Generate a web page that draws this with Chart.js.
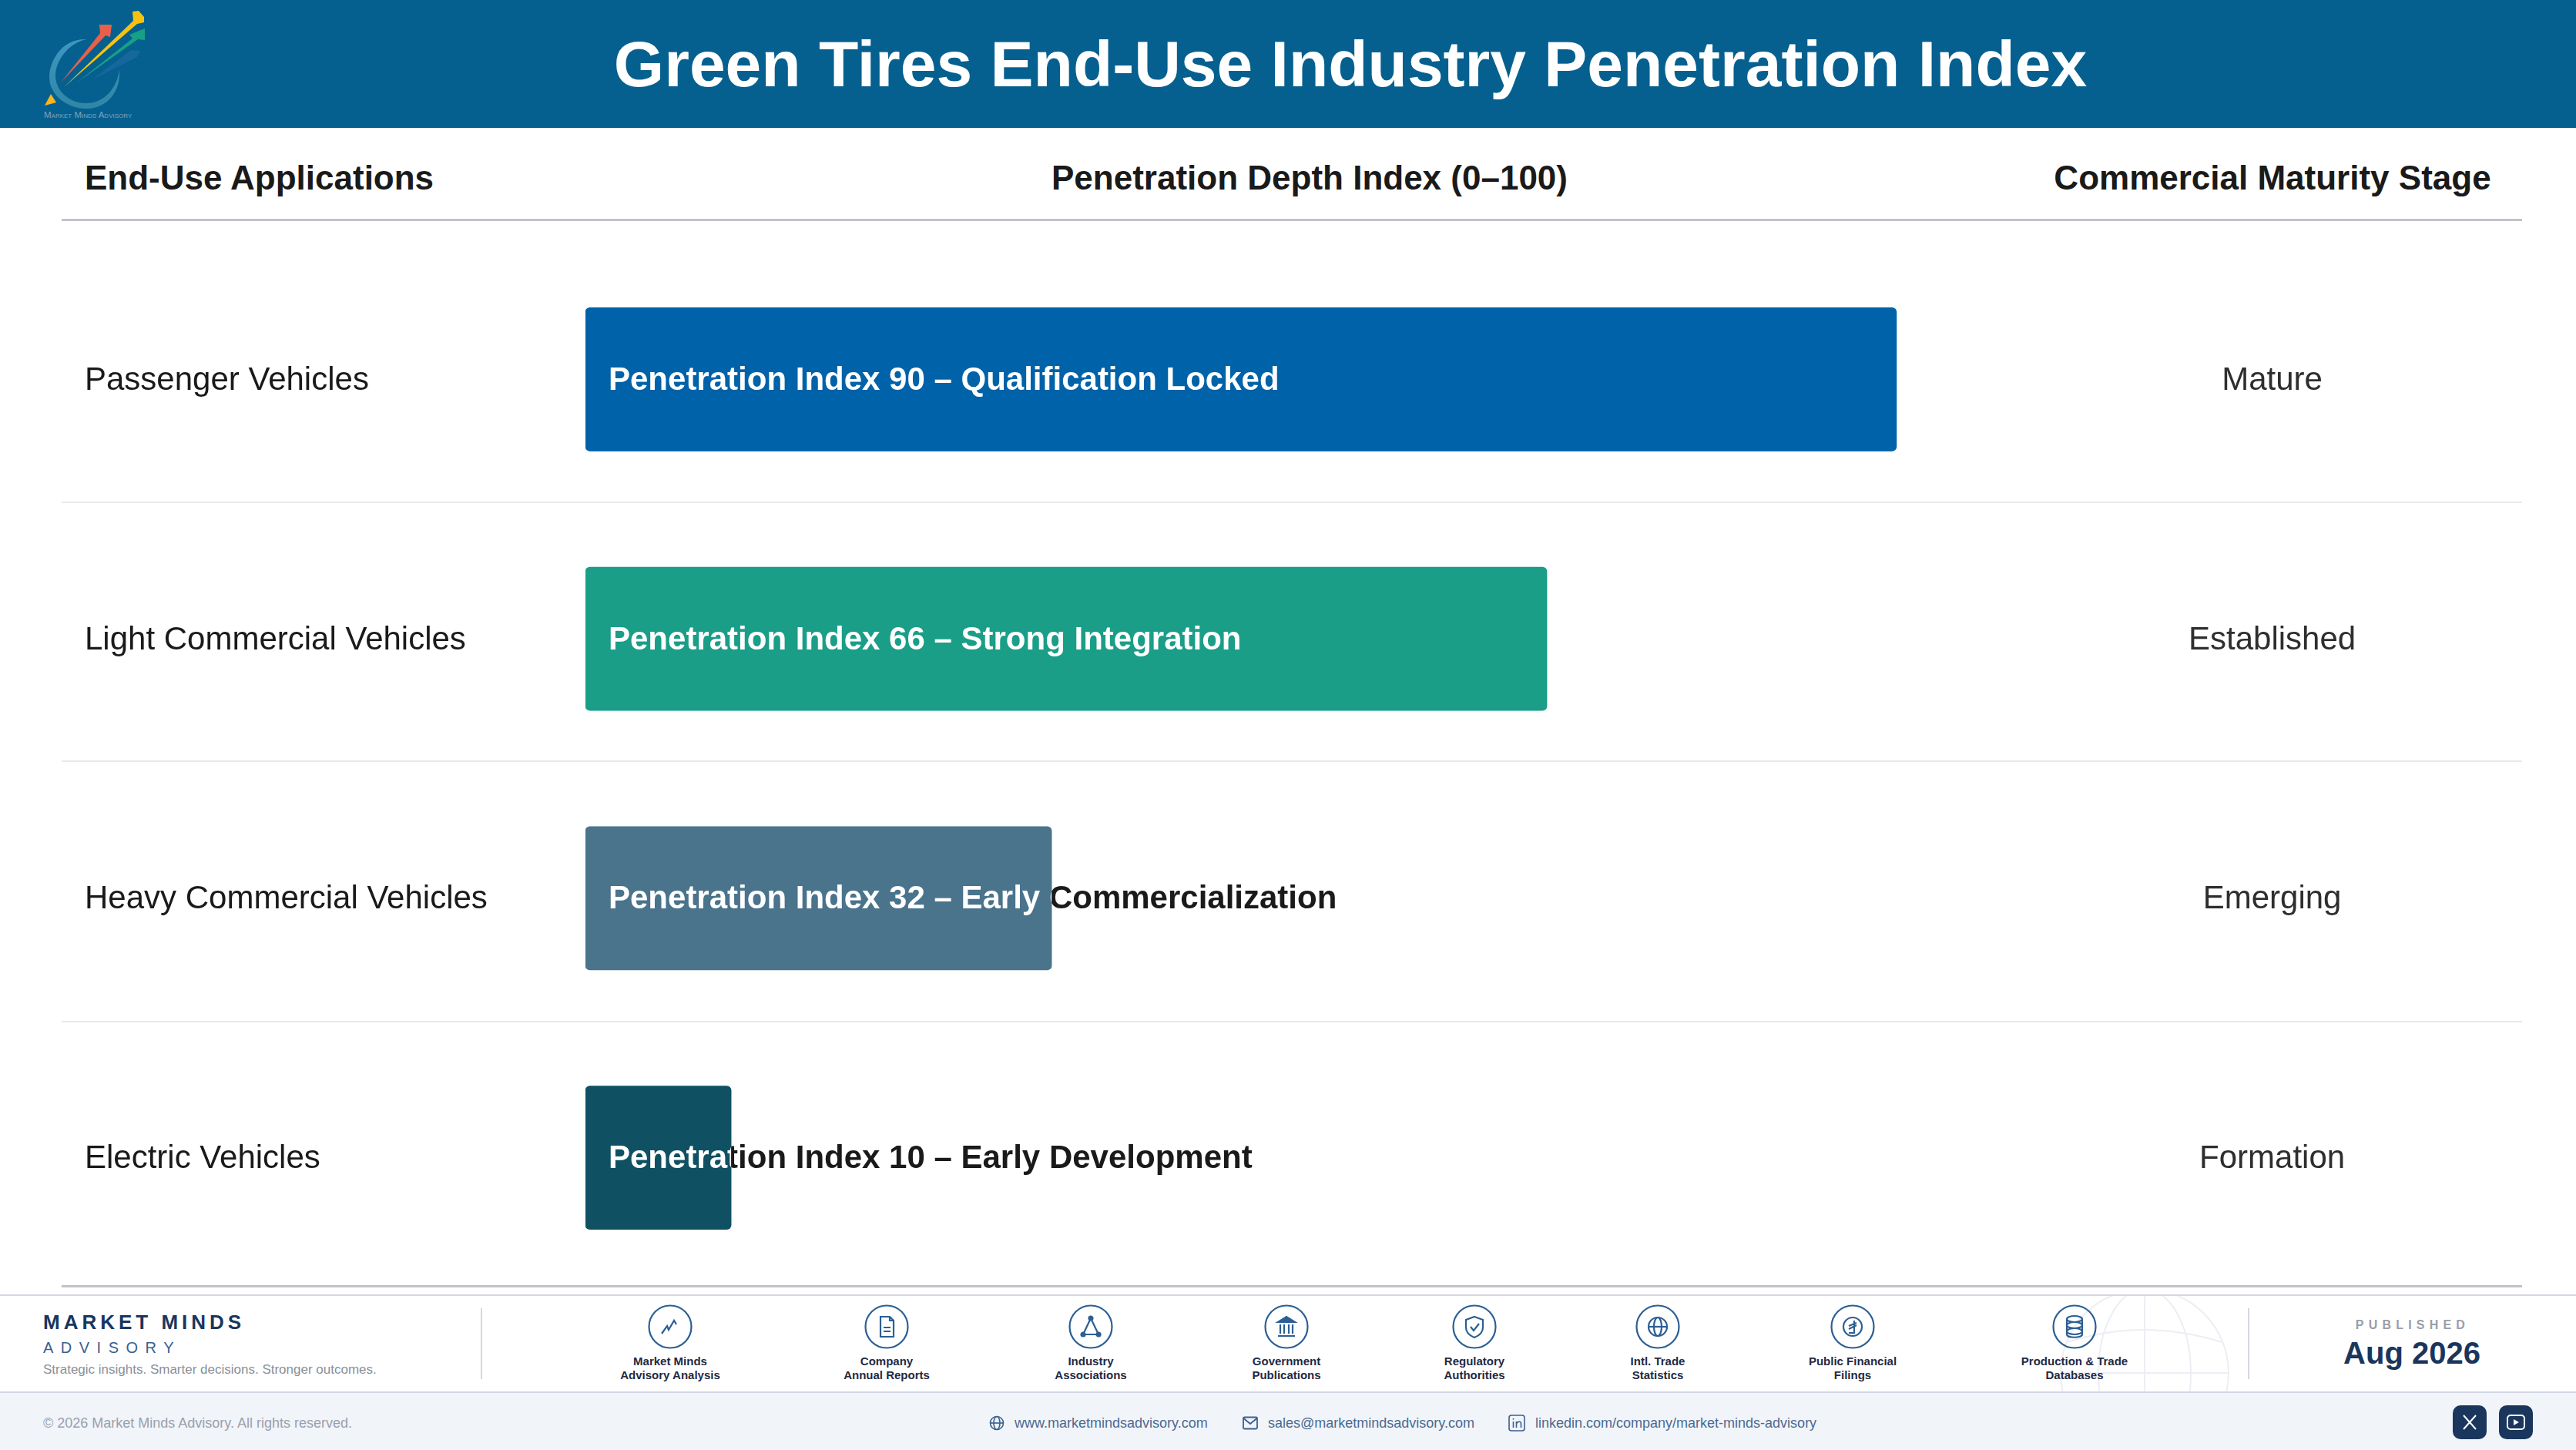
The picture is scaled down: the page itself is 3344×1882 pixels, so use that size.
<!DOCTYPE html>
<html>
<head>
<meta charset="utf-8">
<title>Green Tires End-Use Industry Penetration Index</title>
<script src="https://cdn.jsdelivr.net/npm/chart.js@4"></script>
<style>
  html, body { margin: 0; padding: 0; background: #fff; }
  body { position: relative; width: 3344px; height: 1882px; overflow: hidden; font-family: "Liberation Sans", Arial, sans-serif; color: #1a1a1a; }
  .abs { position: absolute; white-space: nowrap; }
  .mid { transform: translateY(-50%); }
  .ctr { transform: translate(-50%, -50%); }
  #header { left: 0; top: 0; width: 3344px; height: 166px; background: #05608F; }
  #title { left: 1753px; top: 83px; font-size: 84px; font-weight: 700; color: #fff; }
  .colhead { top: 231px; font-size: 44px; font-weight: 700; color: #1a1a1a; }
  .rule { left: 80px; width: 3194px; }
  #chartWrap { left: 0; top: 166px; width: 3344px; height: 1514px; }
  #footer { left: 0; top: 1680px; width: 3344px; background: #fff; border-top: 2px solid #D3D6E4; border-bottom: 2px solid #D3D6E4; box-sizing: content-box; height: 124px; }
  #bottom { left: 0; top: 1808px; width: 3344px; height: 74px; background: #F1F4F9; }
  .vdiv { top: 1698px; width: 2px; height: 92px; background: #D3D7DF; }
  .srcLabel { font-size: 15px; font-weight: 700; line-height: 18px; color: #1F2A44; text-align: center; transform: translateX(-50%); top: 1758px; }
  .contact { top: 1847px; font-size: 18px; color: #4A6A90; }
  .social { top: 1824px; width: 44px; height: 44px; border-radius: 10px; background: #1A365D; }
</style>
</head>
<body>
<div class="abs" id="header"></div>
<svg class="abs" style="left:0;top:0" width="220" height="166" viewBox="0 0 220 166">
  <defs>
    <linearGradient id="ringGrad" x1="0" y1="0" x2="0" y2="1">
      <stop offset="0" stop-color="#3E97C0"/><stop offset="1" stop-color="#2F86A6"/>
    </linearGradient>
  </defs>
  <path d="M 112 51 C 78 50 64 82 64 100 C 64 124 88 141 112 141 C 140 141 157 118 155 90 C 152 116 134 134 112 134 C 90 134 72 118 72 98 C 72 80 88 56 112 51 Z" fill="url(#ringGrad)"/>
  <polygon points="58,137 73,133 66,122" fill="#FBB41A"/>
  <polygon points="120,103 178,74 182,66 170,65" fill="#1F6EA6" opacity="0.6"/>
  <polygon points="100,107 172,50 168,45 188,37 188,52 179,51" fill="#16A085"/>
  <polygon points="83,113 173,27 172,15 180,14 187,22 187,29 178,31" fill="#F7C20F"/>
  <polygon points="79,107 130,43 129,32 145,32 143,48 137,46" fill="#E8604A"/>
  <text x="57" y="153" font-size="11.5" fill="#7FA3BC" font-family="Liberation Sans" style="font-variant:small-caps">Market Minds Advisory</text>
</svg>
<div class="abs ctr" id="title">Green Tires End-Use Industry Penetration Index</div>

<div class="abs colhead mid" style="left:110px">End-Use Applications</div>
<div class="abs colhead ctr" style="left:1700px">Penetration Depth Index (0–100)</div>
<div class="abs colhead ctr" style="left:2950px">Commercial Maturity Stage</div>

<div class="abs rule" style="top:284px;height:3px;background:#C2C2CA"></div>
<div class="abs rule" style="top:651px;height:2px;background:#E8E8E8"></div>
<div class="abs rule" style="top:987px;height:2px;background:#E8E8E8"></div>
<div class="abs rule" style="top:1325px;height:2px;background:#E8E8E8"></div>
<div class="abs rule" style="top:1668px;height:3px;background:#C2C2CA"></div>

<div class="abs" id="chartWrap"><canvas id="penetrationChart" width="3344" height="1514"></canvas></div>

<div class="abs" id="footer"></div>
<div class="abs" id="bottom"></div>
<svg class="abs" style="left:2640px;top:1682px" width="290" height="124" viewBox="2640 1682 290 124" fill="none" stroke="#ECEEF3" stroke-width="2">
  <circle cx="2784" cy="1782" r="109"/>
  <ellipse cx="2784" cy="1782" rx="60" ry="109"/>
  <line x1="2784" y1="1673" x2="2784" y2="1806"/>
  <line x1="2675" y1="1782" x2="2893" y2="1782"/>
  <path d="M 2684 1742 Q 2784 1710 2884 1742"/>
</svg>

<div class="abs mid" style="left:56px;top:1716px;font-size:26px;font-weight:700;letter-spacing:5px;color:#1A365D">MARKET MINDS</div>
<div class="abs mid" style="left:56px;top:1749px;font-size:20px;letter-spacing:9.5px;color:#3A5F8F">ADVISORY</div>
<div class="abs mid" style="left:56px;top:1778px;font-size:17px;color:#8A8F9A">Strategic insights. Smarter decisions. Stronger outcomes.</div>
<div class="abs vdiv" style="left:624px"></div>
<div class="abs vdiv" style="left:2918px"></div>
<div id="sources"></div>
<div class="abs ctr" style="left:3132px;top:1720px;font-size:16px;font-weight:700;letter-spacing:6.2px;color:#9A9EA8">PUBLISHED</div>
<div class="abs ctr" style="left:3131px;top:1756px;font-size:40px;font-weight:700;color:#1A365D">Aug 2026</div>

<div class="abs mid" style="left:56px;top:1847px;font-size:18px;color:#9AA0AC">© 2026 Market Minds Advisory. All rights reserved.</div>
<svg class="abs" style="left:1284px;top:1837px" width="20" height="20" viewBox="0 0 20 20" fill="none" stroke="#3A5F8F" stroke-width="1.6">
  <circle cx="10" cy="10" r="8.5"/><ellipse cx="10" cy="10" rx="4" ry="8.5"/><line x1="1.5" y1="10" x2="18.5" y2="10"/>
</svg>
<div class="abs contact mid" style="left:1317px">www.marketmindsadvisory.com</div>
<svg class="abs" style="left:1613px;top:1838px" width="20" height="18" viewBox="0 0 20 18" fill="none" stroke="#3A5F8F" stroke-width="1.8">
  <rect x="1" y="1.5" width="18" height="15" rx="1.5"/><path d="M 1.5 3 L 10 10 L 18.5 3"/>
</svg>
<div class="abs contact mid" style="left:1646px">sales@marketmindsadvisory.com</div>
<svg class="abs" style="left:1958px;top:1836px" width="22" height="22" viewBox="0 0 22 22" fill="none" stroke="#3A5F8F" stroke-width="1.6">
  <rect x="1" y="1" width="20" height="20" rx="3"/><line x1="6.5" y1="9" x2="6.5" y2="17"/><line x1="6.5" y1="5" x2="6.5" y2="6.6"/><path d="M 10.5 17 V 9 M 10.5 12 Q 12 9 14.5 9.2 Q 16.5 9.5 16.5 12 V 17"/>
</svg>
<div class="abs contact mid" style="left:1993px">linkedin.com/company/market-minds-advisory</div>
<div class="abs social" style="left:3184px"></div>
<div class="abs social" style="left:3244px"></div>
<svg class="abs" style="left:3184px;top:1824px" width="104" height="44" viewBox="0 0 104 44" fill="none" stroke="#fff" stroke-width="2">
  <path d="M 14 13 L 30 31 M 30 13 L 14 31"/>
  <rect x="71" y="13" width="22" height="18" rx="4"/>
  <polygon points="79,18 79,26 86,22" fill="#fff" stroke="none"/>
</svg>

<script>
// Chart data
var applications = ['Passenger Vehicles', 'Light Commercial Vehicles', 'Heavy Commercial Vehicles', 'Electric Vehicles'];
var penetrationIndex = [90, 66, 32, 10];
var penetrationNotes = ['Qualification Locked', 'Strong Integration', 'Early Commercialization', 'Early Development'];
var maturityStages = ['Mature', 'Established', 'Emerging', 'Formation'];
var barColors = ['#0062A8', '#1A9E88', '#4A738C', '#0F5163'];

// Footer sources
var sourceNames = [
    ['Market Minds', 'Advisory Analysis'], ['Company', 'Annual Reports'], ['Industry', 'Associations'],
    ['Government', 'Publications'], ['Regulatory', 'Authorities'], ['Intl. Trade', 'Statistics'],
    ['Public Financial', 'Filings'], ['Production & Trade', 'Databases']
];
var sourceX = [870, 1151, 1416, 1670, 1914, 2152, 2405, 2693];
var sourceIcons = [
    '<path d="M -11 9 L -4 -1 L -2 4 L 5 -8 L 8 -3" />',
    '<path d="M -8 -13 H 4 L 9 -8 V 13 H -8 Z M 4 -13 V -8 H 9 M -4 1 H 5 M -4 6 H 5" />',
    '<path d="M 0 -11 L -10 10 H 10 Z" /><circle cx="0" cy="-11" r="2.5" fill="#2C5F94"/><circle cx="-10" cy="10" r="2.5" fill="#2C5F94"/><circle cx="10" cy="10" r="2.5" fill="#2C5F94"/>',
    '<path d="M -11 -6 L 0 -13 L 11 -6 Z" fill="#2C5F94"/><path d="M -8 -3 V 9 M -3 -3 V 9 M 3 -3 V 9 M 8 -3 V 9 M -11 12 H 11" />',
    '<path d="M 0 -13 L 11 -9 V 1 C 11 8 5 12 0 14 C -5 12 -11 8 -11 1 V -9 Z M -5 0 L -1 5 L 6 -4" />',
    '<circle cx="0" cy="0" r="12"/><ellipse cx="0" cy="0" rx="5" ry="12"/><path d="M -12 0 H 12" />',
    '<circle cx="0" cy="0" r="12"/><path d="M 2 -8 V 8 H -5 M -5 3 L 5 -2 M -5 -1 L 5 -5" />',
    '<ellipse cx="0" cy="-10" rx="10" ry="4"/><ellipse cx="0" cy="-2" rx="10" ry="4"/><ellipse cx="0" cy="6" rx="10" ry="4"/><path d="M -10 -10 V 10 C -10 15 10 15 10 10 V -10" />'
];

var sourcesHtml = '';
for (var s = 0; s < sourceNames.length; s++) {
    sourcesHtml += '<svg class="abs" style="left:' + (sourceX[s] - 30) + 'px;top:1692px" width="60" height="60" viewBox="-30 -30 60 60" fill="none" stroke="#2C5F94" stroke-width="2.2">' +
        '<circle cx="0" cy="0" r="27.5"/>' + sourceIcons[s] + '</svg>';
    sourcesHtml += '<div class="abs srcLabel" style="left:' + sourceX[s] + 'px">' +
        sourceNames[s][0].replace('&', '&amp;') + '<br>' + sourceNames[s][1] + '</div>';
}
document.getElementById('sources').innerHTML = sourcesHtml;

// Label starts inside the bar: dark over white, white where the bar sits behind it
var barTextPlugin = {
    id: 'barText',
    afterDatasetsDraw: function (chart) {
        var ctx = chart.ctx;
        chart.getDatasetMeta(0).data.forEach(function (bar, i) {
            var text = 'Penetration Index ' + penetrationIndex[i] + ' – ' + penetrationNotes[i];
            var left = bar.base;
            var top = bar.y - bar.height / 2;
            var textY = bar.y + 2;
            ctx.save();
            ctx.font = '700 42px "Liberation Sans"';
            ctx.textBaseline = 'middle';
            ctx.textAlign = 'left';
            ctx.fillStyle = '#1A1A1A';
            ctx.fillText(text, left + 30, textY);
            ctx.beginPath();
            ctx.roundRect(left, top, bar.x - left, bar.height, 6);
            ctx.clip();
            ctx.fillStyle = barColors[i];
            ctx.fill();
            ctx.fillStyle = '#FFFFFF';
            ctx.fillText(text, left + 30, textY);
            ctx.restore();
        });
    }
};

// Tick padding only moves the labels sideways here, it must not shrink the rows
function fitAxis(width) {
    return function (scale) {
        scale.width = width;
        scale.paddingTop = 0;
        scale.paddingBottom = 0;
    };
}

new Chart(document.getElementById('penetrationChart').getContext('2d'), {
    type: 'bar',
    data: {
        labels: applications,
        datasets: [{
            data: penetrationIndex,
            backgroundColor: barColors,
            barThickness: 186,
            borderRadius: 6,
            borderSkipped: false
        }]
    },
    options: {
        indexAxis: 'y',
        responsive: false,
        animation: false,
        devicePixelRatio: 1,
        layout: { padding: { left: 110, right: 95, top: 158, bottom: 9 } },
        plugins: { legend: { display: false }, tooltip: { enabled: false } },
        scales: {
            x: { min: 0, max: 100, display: false },
            y: {
                position: 'left',
                grid: { display: false },
                border: { display: false },
                ticks: { crossAlign: 'far', padding: 0, labelOffset: 2, color: '#1A1A1A', font: { family: 'Liberation Sans', size: 42 } },
                afterFit: fitAxis(650)
            },
            stage: {
                type: 'category',
                axis: 'y',
                position: 'right',
                labels: maturityStages,
                offset: true,
                grid: { display: false },
                border: { display: false },
                ticks: { crossAlign: 'center', padding: 182, labelOffset: 2, color: '#2E2E2E', font: { family: 'Liberation Sans', size: 42 } },
                afterFit: fitAxis(598)
            }
        }
    },
    plugins: [barTextPlugin]
});
</script>
</body>
</html>
